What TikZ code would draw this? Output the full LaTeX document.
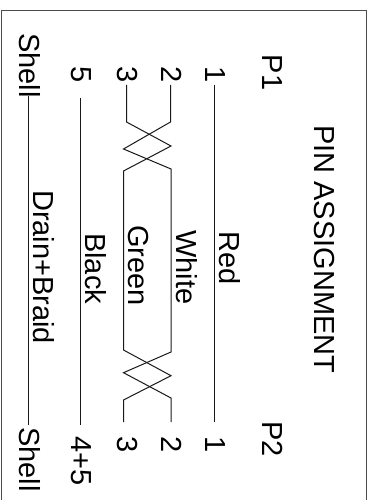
\documentclass[tikz,border=0pt]{standalone}
\usepackage{fontspec}
\setmainfont{Liberation Sans}
\tikzset{
	lbl/.style={anchor=base west,inner sep=0pt,rotate=-90,font=\fontsize{29}{31}\selectfont},
	wire/.style={line width=1pt,black!90}
}
\begin{document}
\begin{tikzpicture}[x=1pt,y=-1pt]
	\useasboundingbox (0,0) rectangle (372,500);
	\draw[line width=1.3pt,black!70] (1.2,500) -- (1.2,10.3) -- (366.5,10.3) -- (366.5,500);
	\node[lbl] (title) at (314.5,125) {PIN ASSIGNMENT};
	\node[lbl] (pa) at (262.5,54.5) {P1};
	\node[lbl] (pb) at (262.5,421) {P2};
	\node[lbl] (aone) at (205.5,66) {1};
	\node[lbl] (atwo) at (161.5,66) {2};
	\node[lbl] (athree) at (117.5,66) {3};
	\node[lbl] (afive) at (71.5,66) {5};
	\node[lbl] (ashell) at (19.5,33) {Shell};
	\node[lbl] (bone) at (205.5,436) {1};
	\node[lbl] (btwo) at (161.5,436) {2};
	\node[lbl] (bthree) at (117.5,436) {3};
	\node[lbl] (bfive) at (71.5,436) {4+5};
	\node[lbl] (bshell) at (19.5,427) {Shell};
	\node[lbl] (red) at (219.5,231) {Red};
	\node[lbl] (white) at (176.5,230) {White};
	\node[lbl] (green) at (128.5,225) {Green};
	\node[lbl] (black) at (85.5,233) {Black};
	\node[lbl] (drain) at (33.5,190) {Drain+Braid};
	% wire ends
	\coordinate (ra) at (214,85);
	\coordinate (rb) at (214,422);
	\coordinate (wa) at (170.5,85);
	\coordinate (wb) at (171,422);
	\coordinate (ga) at (126.5,85);
	\coordinate (gb) at (123.5,422);
	\coordinate (ka) at (80,98);
	\coordinate (kb) at (80,425);
	\coordinate (da) at (28,96);
	\coordinate (db) at (28,425);
	\draw[wire] (ra) -- (rb);
	\draw[wire] (ka) -- (kb);
	\draw[wire] (da) -- (db);
	\draw[wire] (ga) -- (126.5,122) -- (171,146) -- (123.5,171) -- (123.5,350) -- (171,375.7) -- (123.5,400) -- (gb);
	\draw[wire] (wa) -- (170.5,122) -- (123.5,149) -- (171,169) -- (171,352) -- (123.5,372.7) -- (171,398) -- (wb);
\end{tikzpicture}
\end{document}
